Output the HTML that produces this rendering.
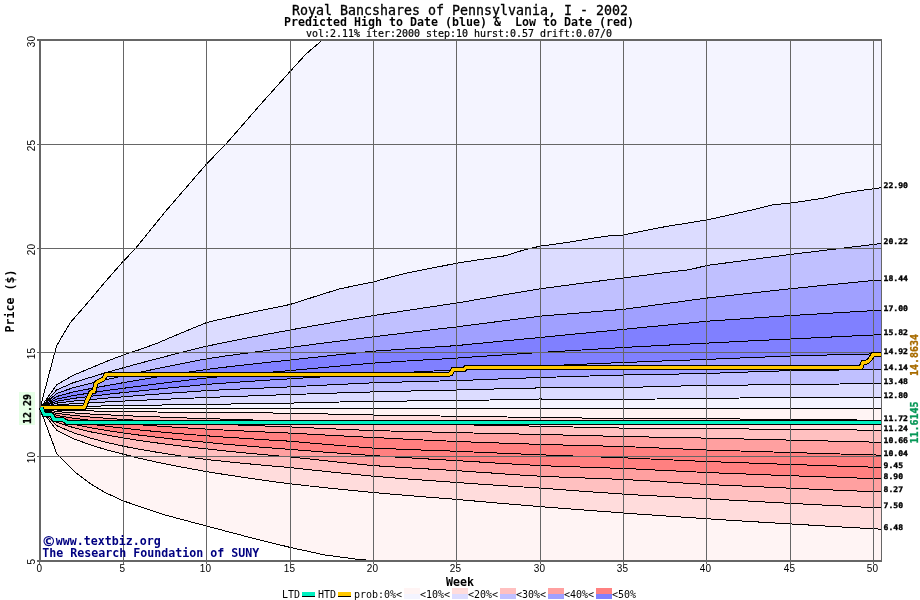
<!DOCTYPE html>
<html><head><meta charset="utf-8"><title>Royal Bancshares of Pennsylvania, I - 2002</title>
<style>
html,body{margin:0;padding:0;background:#fff;}
svg{display:block;will-change:transform;}
text{font-family:"DejaVu Sans Mono","Liberation Mono",monospace;fill:#000;}
.t1{font-size:13.29px;stroke:#000;stroke-width:0.3px;}
.t2{font-size:11.63px;font-weight:bold;}
.t3{font-size:9.97px;stroke:#000;stroke-width:0.2px;}
.tick{font-family:"Liberation Sans",sans-serif;font-size:10px;}
.tiny{font-size:7.7px;font-weight:bold;stroke:#000;stroke-width:0.35px;}
.cp{font-size:11.63px;font-weight:bold;fill:#000080;}
.leg{font-size:9.97px;}
</style></head><body>
<svg width="920" height="600" viewBox="0 0 920 600">
<rect width="920" height="600" fill="#fff"/>
<g shape-rendering="crispEdges">
<polygon points="40.0,408.4 56.5,346.0 70.0,323.0 90.0,300.0 105.0,282.0 123.5,261.0 135.5,248.5 165.0,212.0 206.5,164.0 226.0,144.0 260.0,105.0 290.5,71.0 306.0,54.0 322.5,40.0 881.0,40.0 881.0,408.4 40.0,408.4" fill="#f4f4ff"/>
<polygon points="40.0,408.4 56.7,384.8 73.3,375.3 90.0,368.3 106.7,361.3 123.3,355.0 140.0,349.5 156.7,343.4 173.3,336.3 190.0,329.4 206.7,322.5 223.3,318.6 240.0,314.9 256.7,311.3 273.3,307.9 290.0,304.5 306.7,299.2 323.3,293.9 340.0,288.8 356.7,285.3 373.3,282.0 390.0,277.3 406.7,273.1 423.3,269.8 440.0,266.5 456.7,263.2 473.3,260.6 490.0,258.1 506.7,255.5 523.3,250.1 540.0,246.2 556.7,243.9 573.3,241.5 590.0,238.7 606.7,236.1 623.3,235.0 640.0,231.6 656.7,228.2 673.3,225.3 690.0,222.7 706.7,220.0 723.3,216.3 740.0,212.6 756.7,208.9 773.3,204.7 790.0,203.2 806.7,200.7 823.3,198.2 840.0,193.9 856.7,191.0 873.3,188.8 881.7,187.7 881.0,408.4 40.0,408.4" fill="#dcdcff"/>
<polygon points="40.0,408.4 56.7,389.9 73.3,382.7 90.0,377.5 106.7,372.4 123.3,367.8 140.0,363.2 156.7,358.8 173.3,354.5 190.0,350.3 206.7,346.2 223.3,342.8 240.0,339.4 256.7,336.2 273.3,333.1 290.0,330.0 306.7,327.0 323.3,324.1 340.0,321.2 356.7,318.4 373.3,315.6 390.0,313.0 406.7,310.5 423.3,308.0 440.0,305.5 456.7,303.1 473.3,300.2 490.0,297.3 506.7,294.4 523.3,291.6 540.0,288.8 556.7,286.6 573.3,284.4 590.0,282.2 606.7,280.1 623.3,278.0 640.0,275.9 656.7,273.7 673.3,271.6 690.0,269.6 706.7,265.5 723.3,263.3 740.0,261.1 756.7,258.9 773.3,256.7 790.0,254.5 806.7,252.5 823.3,250.5 840.0,248.5 856.7,246.5 873.3,244.5 881.7,243.4 881.0,408.4 40.0,408.4" fill="#c0c0ff"/>
<polygon points="40.0,408.4 56.7,393.4 73.3,387.7 90.0,383.6 106.7,379.5 123.3,375.9 140.0,372.2 156.7,368.7 173.3,365.3 190.0,362.0 206.7,358.8 223.3,356.3 240.0,354.0 256.7,351.8 273.3,349.6 290.0,347.5 306.7,345.3 323.3,343.1 340.0,341.0 356.7,338.9 373.3,336.9 390.0,334.8 406.7,332.8 423.3,330.8 440.0,328.8 456.7,326.9 473.3,324.7 490.0,322.6 506.7,320.4 523.3,318.3 540.0,316.2 556.7,314.8 573.3,313.5 590.0,312.1 606.7,310.7 623.3,309.4 640.0,307.1 656.7,304.8 673.3,302.6 690.0,300.3 706.7,298.1 723.3,296.2 740.0,294.3 756.7,292.5 773.3,290.6 790.0,288.8 806.7,287.1 823.3,285.4 840.0,283.8 856.7,282.1 873.3,280.5 881.7,280.4 881.0,408.4 40.0,408.4" fill="#a0a0ff"/>
<polygon points="40.0,408.4 56.7,396.5 73.3,392.0 90.0,388.7 106.7,385.6 123.3,382.7 140.0,379.8 156.7,377.1 173.3,374.5 190.0,371.9 206.7,369.4 223.3,367.4 240.0,365.4 256.7,363.6 273.3,361.8 290.0,360.0 306.7,358.2 323.3,356.4 340.0,354.6 356.7,352.9 373.3,351.2 390.0,350.1 406.7,348.9 423.3,347.8 440.0,346.7 456.7,345.6 473.3,343.9 490.0,342.3 506.7,340.7 523.3,339.1 540.0,337.5 556.7,335.8 573.3,334.2 590.0,332.6 606.7,331.0 623.3,329.4 640.0,327.7 656.7,326.1 673.3,324.5 690.0,322.9 706.7,321.2 723.3,320.1 740.0,319.0 756.7,317.8 773.3,316.7 790.0,315.6 806.7,314.6 823.3,313.6 840.0,312.6 856.7,311.6 873.3,310.6 881.7,310.4 881.0,408.4 40.0,408.4" fill="#8080ff"/>
<polygon points="40.0,408.4 56.7,399.1 73.3,395.6 90.0,393.0 106.7,390.5 123.3,388.3 140.0,386.1 156.7,383.9 173.3,381.9 190.0,379.9 206.7,377.9 223.3,376.4 240.0,374.8 256.7,373.4 273.3,372.0 290.0,370.6 306.7,369.0 323.3,367.5 340.0,366.0 356.7,364.5 373.3,363.1 390.0,362.1 406.7,361.0 423.3,360.0 440.0,359.1 456.7,358.1 473.3,356.9 490.0,355.8 506.7,354.7 523.3,353.6 540.0,352.5 556.7,351.5 573.3,350.5 590.0,349.5 606.7,348.5 623.3,347.5 640.0,346.6 656.7,345.7 673.3,344.8 690.0,344.0 706.7,343.1 723.3,342.3 740.0,341.4 756.7,340.6 773.3,339.8 790.0,339.0 806.7,338.2 823.3,337.4 840.0,336.6 856.7,335.8 873.3,335.0 881.7,334.9 881.0,408.4 40.0,408.4" fill="#8080ff"/>
<polygon points="40.0,408.4 56.7,401.2 73.3,398.4 90.0,396.4 106.7,394.4 123.3,392.6 140.0,390.9 156.7,389.2 173.3,387.5 190.0,386.0 206.7,384.4 223.3,383.2 240.0,382.0 256.7,380.9 273.3,379.8 290.0,378.8 306.7,377.8 323.3,376.8 340.0,375.9 356.7,375.0 373.3,374.1 390.0,373.2 406.7,372.4 423.3,371.5 440.0,370.7 456.7,369.9 473.3,369.1 490.0,368.3 506.7,367.6 523.3,366.8 540.0,366.1 556.7,365.3 573.3,364.6 590.0,363.9 606.7,363.2 623.3,362.5 640.0,361.9 656.7,361.2 673.3,360.6 690.0,360.0 706.7,359.4 723.3,358.7 740.0,358.0 756.7,357.3 773.3,356.7 790.0,356.0 806.7,355.6 823.3,355.1 840.0,354.7 856.7,354.3 873.3,353.9 881.7,353.7 881.0,408.4 40.0,408.4" fill="#a0a0ff"/>
<polygon points="40.0,408.4 56.7,403.1 73.3,401.1 90.0,399.6 106.7,398.1 123.3,396.8 140.0,395.4 156.7,394.2 173.3,392.9 190.0,391.8 206.7,390.6 223.3,389.8 240.0,389.0 256.7,388.3 273.3,387.6 290.0,386.9 306.7,386.0 323.3,385.2 340.0,384.4 356.7,383.6 373.3,382.8 390.0,382.3 406.7,381.9 423.3,381.4 440.0,381.0 456.7,380.6 473.3,380.0 490.0,379.3 506.7,378.7 523.3,378.1 540.0,377.5 556.7,377.0 573.3,376.5 590.0,376.0 606.7,375.5 623.3,375.0 640.0,374.7 656.7,374.4 673.3,374.1 690.0,373.8 706.7,373.5 723.3,372.9 740.0,372.3 756.7,371.7 773.3,371.2 790.0,370.6 806.7,370.4 823.3,370.2 840.0,370.0 856.7,369.8 873.3,369.6 881.7,369.9 881.0,408.4 40.0,408.4" fill="#c0c0ff"/>
<polygon points="40.0,408.4 56.7,405.0 73.3,403.7 90.0,402.8 106.7,401.9 123.3,401.1 140.0,400.3 156.7,399.6 173.3,398.9 190.0,398.2 206.7,397.5 223.3,396.9 240.0,396.3 256.7,395.7 273.3,395.1 290.0,394.6 306.7,394.0 323.3,393.5 340.0,392.9 356.7,392.4 373.3,391.9 390.0,391.5 406.7,391.1 423.3,390.7 440.0,390.4 456.7,390.0 473.3,389.6 490.0,389.1 506.7,388.7 523.3,388.3 540.0,387.9 556.7,387.8 573.3,387.7 590.0,387.6 606.7,387.6 623.3,387.5 640.0,387.1 656.7,386.6 673.3,386.2 690.0,385.8 706.7,385.4 723.3,385.2 740.0,385.1 756.7,384.9 773.3,384.8 790.0,384.6 806.7,384.4 823.3,384.2 840.0,384.0 856.7,383.8 873.3,383.6 881.7,383.6 881.0,408.4 40.0,408.4" fill="#dcdcff"/>
<polygon points="40.0,408.4 56.7,407.0 73.3,406.5 90.0,406.2 106.7,405.9 123.3,405.6 140.0,405.3 156.7,405.1 173.3,404.8 190.0,404.6 206.7,404.4 223.3,404.1 240.0,403.9 256.7,403.6 273.3,403.3 290.0,403.1 306.7,402.7 323.3,402.3 340.0,402.0 356.7,401.6 373.3,401.2 390.0,401.1 406.7,401.0 423.3,400.8 440.0,400.7 456.7,400.6 473.3,400.3 490.0,400.0 506.7,399.6 523.3,399.3 540.0,399.0 556.7,399.1 573.3,399.2 590.0,399.2 606.7,399.3 623.3,399.4 640.0,399.2 656.7,399.0 673.3,398.8 690.0,398.6 706.7,398.4 723.3,398.2 740.0,398.0 756.7,397.9 773.3,397.7 790.0,397.5 806.7,397.5 823.3,397.5 840.0,397.5 856.7,397.5 873.3,397.5 881.7,397.8 881.0,408.4 40.0,408.4" fill="#f4f4ff"/>
<polygon points="40.0,408.4 56.7,453.5 75.0,472.0 90.0,483.5 105.0,492.5 123.5,501.0 165.0,515.0 206.5,526.0 250.0,537.5 290.5,547.5 325.0,555.0 355.0,559.0 366.0,560.0 881.0,560.0 881.0,408.4 40.0,408.4" fill="#fff4f4"/>
<polygon points="40.0,408.4 56.7,430.2 73.3,438.6 90.0,444.8 106.7,449.9 123.3,454.2 140.0,458.4 156.7,462.1 173.3,465.5 190.0,468.6 206.7,471.6 223.3,474.3 240.0,476.8 256.7,479.3 273.3,481.6 290.0,483.8 306.7,485.7 323.3,487.5 340.0,489.2 356.7,490.9 373.3,492.5 390.0,494.0 406.7,495.4 423.3,496.8 440.0,498.1 456.7,499.4 473.3,500.9 490.0,502.4 506.7,503.8 523.3,505.2 540.0,506.6 556.7,507.9 573.3,509.2 590.0,510.5 606.7,511.7 623.3,513.0 640.0,514.2 656.7,515.3 673.3,516.5 690.0,517.6 706.7,518.7 723.3,519.8 740.0,520.9 756.7,521.9 773.3,522.9 790.0,523.9 806.7,524.9 823.3,525.9 840.0,526.9 856.7,527.8 873.3,528.8 881.7,529.2 881.0,408.4 40.0,408.4" fill="#ffdcdc"/>
<polygon points="40.0,408.4 56.7,425.7 73.3,432.7 90.0,438.0 106.7,442.4 123.3,446.2 140.0,449.4 156.7,452.2 173.3,454.8 190.0,457.3 206.7,459.5 223.3,461.3 240.0,463.0 256.7,464.6 273.3,466.1 290.0,467.5 306.7,469.4 323.3,471.2 340.0,472.9 356.7,474.6 373.3,476.2 390.0,477.6 406.7,478.9 423.3,480.1 440.0,481.3 456.7,482.5 473.3,483.7 490.0,484.8 506.7,485.9 523.3,487.0 540.0,488.1 556.7,489.3 573.3,490.6 590.0,491.8 606.7,492.9 623.3,494.1 640.0,495.1 656.7,496.0 673.3,496.9 690.0,497.9 706.7,498.8 723.3,499.7 740.0,500.6 756.7,501.5 773.3,502.5 790.0,503.3 806.7,504.2 823.3,505.1 840.0,505.9 856.7,506.8 873.3,507.6 881.7,508.0 881.0,408.4 40.0,408.4" fill="#ffc0c0"/>
<polygon points="40.0,408.4 56.7,422.2 73.3,427.6 90.0,431.7 106.7,435.0 123.3,438.0 140.0,440.6 156.7,442.9 173.3,445.1 190.0,447.1 206.7,448.9 223.3,450.7 240.0,452.4 256.7,454.0 273.3,455.5 290.0,456.9 306.7,458.7 323.3,460.5 340.0,462.3 356.7,464.0 373.3,465.6 390.0,466.7 406.7,467.7 423.3,468.7 440.0,469.7 456.7,470.6 473.3,471.8 490.0,472.9 506.7,474.1 523.3,475.2 540.0,476.2 556.7,476.9 573.3,477.6 590.0,478.2 606.7,478.8 623.3,479.4 640.0,480.4 656.7,481.4 673.3,482.4 690.0,483.4 706.7,484.4 723.3,485.2 740.0,485.9 756.7,486.7 773.3,487.4 790.0,488.2 806.7,488.9 823.3,489.6 840.0,490.3 856.7,491.0 873.3,491.6 881.7,492.0 881.0,408.4 40.0,408.4" fill="#ffa0a0"/>
<polygon points="40.0,408.4 56.7,419.7 73.3,424.2 90.0,427.7 106.7,430.5 123.3,433.0 140.0,435.2 156.7,437.2 173.3,439.1 190.0,440.8 206.7,442.4 223.3,444.0 240.0,445.4 256.7,446.8 273.3,448.1 290.0,449.4 306.7,450.7 323.3,452.0 340.0,453.2 356.7,454.4 373.3,455.6 390.0,456.7 406.7,457.7 423.3,458.7 440.0,459.7 456.7,460.6 473.3,461.6 490.0,462.7 506.7,463.7 523.3,464.6 540.0,465.6 556.7,466.2 573.3,466.8 590.0,467.3 606.7,467.9 623.3,468.4 640.0,469.2 656.7,470.1 673.3,470.9 690.0,471.7 706.7,472.5 723.3,473.2 740.0,473.8 756.7,474.4 773.3,475.1 790.0,475.7 806.7,476.3 823.3,476.9 840.0,477.5 856.7,478.0 873.3,478.6 881.7,478.9 881.0,408.4 40.0,408.4" fill="#ff8080"/>
<polygon points="40.0,408.4 56.7,417.6 73.3,421.2 90.0,424.0 106.7,426.3 123.3,428.2 140.0,430.0 156.7,431.6 173.3,433.1 190.0,434.5 206.7,435.8 223.3,437.0 240.0,438.1 256.7,439.2 273.3,440.3 290.0,441.2 306.7,442.7 323.3,444.1 340.0,445.5 356.7,446.8 373.3,448.1 390.0,448.8 406.7,449.4 423.3,450.1 440.0,450.7 456.7,451.2 473.3,452.0 490.0,452.7 506.7,453.4 523.3,454.1 540.0,454.8 556.7,455.4 573.3,456.0 590.0,456.6 606.7,457.2 623.3,457.8 640.0,458.5 656.7,459.3 673.3,460.0 690.0,460.8 706.7,461.5 723.3,462.1 740.0,462.7 756.7,463.3 773.3,463.9 790.0,464.4 806.7,465.0 823.3,465.6 840.0,466.1 856.7,466.6 873.3,467.2 881.7,467.4 881.0,408.4 40.0,408.4" fill="#ff8080"/>
<polygon points="40.0,408.4 56.7,415.4 73.3,418.2 90.0,420.3 106.7,422.0 123.3,423.5 140.0,424.8 156.7,426.0 173.3,427.1 190.0,428.1 206.7,429.1 223.3,430.0 240.0,430.8 256.7,431.6 273.3,432.4 290.0,433.1 306.7,434.0 323.3,434.9 340.0,435.8 356.7,436.7 373.3,437.5 390.0,438.3 406.7,439.2 423.3,440.0 440.0,440.7 456.7,441.5 473.3,442.1 490.0,442.7 506.7,443.3 523.3,443.8 540.0,444.4 556.7,444.8 573.3,445.3 590.0,445.7 606.7,446.1 623.3,446.5 640.0,447.2 656.7,447.9 673.3,448.6 690.0,449.3 706.7,450.0 723.3,450.5 740.0,451.0 756.7,451.5 773.3,452.0 790.0,452.5 806.7,453.0 823.3,453.5 840.0,454.0 856.7,454.5 873.3,454.9 881.7,455.2 881.0,408.4 40.0,408.4" fill="#ffa0a0"/>
<polygon points="40.0,408.4 56.7,413.4 73.3,415.4 90.0,417.0 106.7,418.3 123.3,419.4 140.0,420.4 156.7,421.3 173.3,422.2 190.0,422.9 206.7,423.7 223.3,424.4 240.0,425.1 256.7,425.7 273.3,426.3 290.0,426.9 306.7,427.7 323.3,428.4 340.0,429.2 356.7,429.9 373.3,430.6 390.0,431.0 406.7,431.4 423.3,431.8 440.0,432.2 456.7,432.6 473.3,433.0 490.0,433.3 506.7,433.7 523.3,434.1 540.0,434.4 556.7,434.8 573.3,435.3 590.0,435.7 606.7,436.1 623.3,436.5 640.0,436.8 656.7,437.2 673.3,437.5 690.0,437.8 706.7,438.1 723.3,438.5 740.0,438.9 756.7,439.3 773.3,439.7 790.0,440.1 806.7,440.5 823.3,440.9 840.0,441.3 856.7,441.7 873.3,442.1 881.7,442.3 881.0,408.4 40.0,408.4" fill="#ffc0c0"/>
<polygon points="40.0,408.4 56.7,411.6 73.3,412.9 90.0,414.0 106.7,414.8 123.3,415.6 140.0,416.3 156.7,416.9 173.3,417.5 190.0,418.1 206.7,418.6 223.3,419.1 240.0,419.6 256.7,420.1 273.3,420.5 290.0,421.0 306.7,421.4 323.3,421.8 340.0,422.2 356.7,422.6 373.3,422.9 390.0,423.3 406.7,423.6 423.3,424.0 440.0,424.3 456.7,424.7 473.3,425.0 490.0,425.3 506.7,425.6 523.3,425.9 540.0,426.2 556.7,426.6 573.3,427.0 590.0,427.4 606.7,427.7 623.3,428.1 640.0,428.2 656.7,428.3 673.3,428.4 690.0,428.5 706.7,428.6 723.3,428.8 740.0,428.9 756.7,429.1 773.3,429.2 790.0,429.4 806.7,429.6 823.3,429.7 840.0,429.9 856.7,430.0 873.3,430.1 881.7,430.2 881.0,408.4 40.0,408.4" fill="#ffdcdc"/>
<polygon points="40.0,408.4 56.7,410.0 73.3,410.5 90.0,410.9 106.7,411.3 123.3,411.6 140.0,411.8 156.7,412.0 173.3,412.2 190.0,412.4 206.7,412.5 223.3,412.7 240.0,412.8 256.7,412.9 273.3,413.0 290.0,413.1 306.7,413.5 323.3,413.9 340.0,414.3 356.7,414.6 373.3,415.0 390.0,415.3 406.7,415.5 423.3,415.8 440.0,416.0 456.7,416.2 473.3,416.5 490.0,416.8 506.7,417.0 523.3,417.3 540.0,417.5 556.7,417.7 573.3,417.9 590.0,418.1 606.7,418.3 623.3,418.5 640.0,418.6 656.7,418.6 673.3,418.7 690.0,418.7 706.7,418.8 723.3,418.9 740.0,419.0 756.7,419.2 773.3,419.3 790.0,419.5 806.7,419.6 823.3,419.7 840.0,419.9 856.7,420.0 873.3,420.2 881.7,420.2 881.0,408.4 40.0,408.4" fill="#fff4f4"/>
<polyline points="40.0,408.4 56.5,346.0 70.0,323.0 90.0,300.0 105.0,282.0 123.5,261.0 135.5,248.5 165.0,212.0 206.5,164.0 226.0,144.0 260.0,105.0 290.5,71.0 306.0,54.0 322.5,40.0" fill="none" stroke="#000" stroke-width="1"/>
<polyline points="40.0,408.4 56.7,453.5 75.0,472.0 90.0,483.5 105.0,492.5 123.5,501.0 165.0,515.0 206.5,526.0 250.0,537.5 290.5,547.5 325.0,555.0 355.0,559.0 366.0,560.0" fill="none" stroke="#000" stroke-width="1"/>
<polyline points="40.0,408.4 56.7,407.0 73.3,406.5 90.0,406.2 106.7,405.9 123.3,405.6 140.0,405.3 156.7,405.1 173.3,404.8 190.0,404.6 206.7,404.4 223.3,404.1 240.0,403.9 256.7,403.6 273.3,403.3 290.0,403.1 306.7,402.7 323.3,402.3 340.0,402.0 356.7,401.6 373.3,401.2 390.0,401.1 406.7,401.0 423.3,400.8 440.0,400.7 456.7,400.6 473.3,400.3 490.0,400.0 506.7,399.6 523.3,399.3 540.0,399.0 556.7,399.1 573.3,399.2 590.0,399.2 606.7,399.3 623.3,399.4 640.0,399.2 656.7,399.0 673.3,398.8 690.0,398.6 706.7,398.4 723.3,398.2 740.0,398.0 756.7,397.9 773.3,397.7 790.0,397.5 806.7,397.5 823.3,397.5 840.0,397.5 856.7,397.5 873.3,397.5 881.7,397.8" fill="none" stroke="#000" stroke-width="1"/>
<polyline points="40.0,408.4 56.7,405.0 73.3,403.7 90.0,402.8 106.7,401.9 123.3,401.1 140.0,400.3 156.7,399.6 173.3,398.9 190.0,398.2 206.7,397.5 223.3,396.9 240.0,396.3 256.7,395.7 273.3,395.1 290.0,394.6 306.7,394.0 323.3,393.5 340.0,392.9 356.7,392.4 373.3,391.9 390.0,391.5 406.7,391.1 423.3,390.7 440.0,390.4 456.7,390.0 473.3,389.6 490.0,389.1 506.7,388.7 523.3,388.3 540.0,387.9 556.7,387.8 573.3,387.7 590.0,387.6 606.7,387.6 623.3,387.5 640.0,387.1 656.7,386.6 673.3,386.2 690.0,385.8 706.7,385.4 723.3,385.2 740.0,385.1 756.7,384.9 773.3,384.8 790.0,384.6 806.7,384.4 823.3,384.2 840.0,384.0 856.7,383.8 873.3,383.6 881.7,383.6" fill="none" stroke="#000" stroke-width="1"/>
<polyline points="40.0,408.4 56.7,403.1 73.3,401.1 90.0,399.6 106.7,398.1 123.3,396.8 140.0,395.4 156.7,394.2 173.3,392.9 190.0,391.8 206.7,390.6 223.3,389.8 240.0,389.0 256.7,388.3 273.3,387.6 290.0,386.9 306.7,386.0 323.3,385.2 340.0,384.4 356.7,383.6 373.3,382.8 390.0,382.3 406.7,381.9 423.3,381.4 440.0,381.0 456.7,380.6 473.3,380.0 490.0,379.3 506.7,378.7 523.3,378.1 540.0,377.5 556.7,377.0 573.3,376.5 590.0,376.0 606.7,375.5 623.3,375.0 640.0,374.7 656.7,374.4 673.3,374.1 690.0,373.8 706.7,373.5 723.3,372.9 740.0,372.3 756.7,371.7 773.3,371.2 790.0,370.6 806.7,370.4 823.3,370.2 840.0,370.0 856.7,369.8 873.3,369.6 881.7,369.9" fill="none" stroke="#000" stroke-width="1"/>
<polyline points="40.0,408.4 56.7,401.2 73.3,398.4 90.0,396.4 106.7,394.4 123.3,392.6 140.0,390.9 156.7,389.2 173.3,387.5 190.0,386.0 206.7,384.4 223.3,383.2 240.0,382.0 256.7,380.9 273.3,379.8 290.0,378.8 306.7,377.8 323.3,376.8 340.0,375.9 356.7,375.0 373.3,374.1 390.0,373.2 406.7,372.4 423.3,371.5 440.0,370.7 456.7,369.9 473.3,369.1 490.0,368.3 506.7,367.6 523.3,366.8 540.0,366.1 556.7,365.3 573.3,364.6 590.0,363.9 606.7,363.2 623.3,362.5 640.0,361.9 656.7,361.2 673.3,360.6 690.0,360.0 706.7,359.4 723.3,358.7 740.0,358.0 756.7,357.3 773.3,356.7 790.0,356.0 806.7,355.6 823.3,355.1 840.0,354.7 856.7,354.3 873.3,353.9 881.7,353.7" fill="none" stroke="#000" stroke-width="1"/>
<polyline points="40.0,408.4 56.7,399.1 73.3,395.6 90.0,393.0 106.7,390.5 123.3,388.3 140.0,386.1 156.7,383.9 173.3,381.9 190.0,379.9 206.7,377.9 223.3,376.4 240.0,374.8 256.7,373.4 273.3,372.0 290.0,370.6 306.7,369.0 323.3,367.5 340.0,366.0 356.7,364.5 373.3,363.1 390.0,362.1 406.7,361.0 423.3,360.0 440.0,359.1 456.7,358.1 473.3,356.9 490.0,355.8 506.7,354.7 523.3,353.6 540.0,352.5 556.7,351.5 573.3,350.5 590.0,349.5 606.7,348.5 623.3,347.5 640.0,346.6 656.7,345.7 673.3,344.8 690.0,344.0 706.7,343.1 723.3,342.3 740.0,341.4 756.7,340.6 773.3,339.8 790.0,339.0 806.7,338.2 823.3,337.4 840.0,336.6 856.7,335.8 873.3,335.0 881.7,334.9" fill="none" stroke="#000" stroke-width="1"/>
<polyline points="40.0,408.4 56.7,396.5 73.3,392.0 90.0,388.7 106.7,385.6 123.3,382.7 140.0,379.8 156.7,377.1 173.3,374.5 190.0,371.9 206.7,369.4 223.3,367.4 240.0,365.4 256.7,363.6 273.3,361.8 290.0,360.0 306.7,358.2 323.3,356.4 340.0,354.6 356.7,352.9 373.3,351.2 390.0,350.1 406.7,348.9 423.3,347.8 440.0,346.7 456.7,345.6 473.3,343.9 490.0,342.3 506.7,340.7 523.3,339.1 540.0,337.5 556.7,335.8 573.3,334.2 590.0,332.6 606.7,331.0 623.3,329.4 640.0,327.7 656.7,326.1 673.3,324.5 690.0,322.9 706.7,321.2 723.3,320.1 740.0,319.0 756.7,317.8 773.3,316.7 790.0,315.6 806.7,314.6 823.3,313.6 840.0,312.6 856.7,311.6 873.3,310.6 881.7,310.4" fill="none" stroke="#000" stroke-width="1"/>
<polyline points="40.0,408.4 56.7,393.4 73.3,387.7 90.0,383.6 106.7,379.5 123.3,375.9 140.0,372.2 156.7,368.7 173.3,365.3 190.0,362.0 206.7,358.8 223.3,356.3 240.0,354.0 256.7,351.8 273.3,349.6 290.0,347.5 306.7,345.3 323.3,343.1 340.0,341.0 356.7,338.9 373.3,336.9 390.0,334.8 406.7,332.8 423.3,330.8 440.0,328.8 456.7,326.9 473.3,324.7 490.0,322.6 506.7,320.4 523.3,318.3 540.0,316.2 556.7,314.8 573.3,313.5 590.0,312.1 606.7,310.7 623.3,309.4 640.0,307.1 656.7,304.8 673.3,302.6 690.0,300.3 706.7,298.1 723.3,296.2 740.0,294.3 756.7,292.5 773.3,290.6 790.0,288.8 806.7,287.1 823.3,285.4 840.0,283.8 856.7,282.1 873.3,280.5 881.7,280.4" fill="none" stroke="#000" stroke-width="1"/>
<polyline points="40.0,408.4 56.7,389.9 73.3,382.7 90.0,377.5 106.7,372.4 123.3,367.8 140.0,363.2 156.7,358.8 173.3,354.5 190.0,350.3 206.7,346.2 223.3,342.8 240.0,339.4 256.7,336.2 273.3,333.1 290.0,330.0 306.7,327.0 323.3,324.1 340.0,321.2 356.7,318.4 373.3,315.6 390.0,313.0 406.7,310.5 423.3,308.0 440.0,305.5 456.7,303.1 473.3,300.2 490.0,297.3 506.7,294.4 523.3,291.6 540.0,288.8 556.7,286.6 573.3,284.4 590.0,282.2 606.7,280.1 623.3,278.0 640.0,275.9 656.7,273.7 673.3,271.6 690.0,269.6 706.7,265.5 723.3,263.3 740.0,261.1 756.7,258.9 773.3,256.7 790.0,254.5 806.7,252.5 823.3,250.5 840.0,248.5 856.7,246.5 873.3,244.5 881.7,243.4" fill="none" stroke="#000" stroke-width="1"/>
<polyline points="40.0,408.4 56.7,384.8 73.3,375.3 90.0,368.3 106.7,361.3 123.3,355.0 140.0,349.5 156.7,343.4 173.3,336.3 190.0,329.4 206.7,322.5 223.3,318.6 240.0,314.9 256.7,311.3 273.3,307.9 290.0,304.5 306.7,299.2 323.3,293.9 340.0,288.8 356.7,285.3 373.3,282.0 390.0,277.3 406.7,273.1 423.3,269.8 440.0,266.5 456.7,263.2 473.3,260.6 490.0,258.1 506.7,255.5 523.3,250.1 540.0,246.2 556.7,243.9 573.3,241.5 590.0,238.7 606.7,236.1 623.3,235.0 640.0,231.6 656.7,228.2 673.3,225.3 690.0,222.7 706.7,220.0 723.3,216.3 740.0,212.6 756.7,208.9 773.3,204.7 790.0,203.2 806.7,200.7 823.3,198.2 840.0,193.9 856.7,191.0 873.3,188.8 881.7,187.7" fill="none" stroke="#000" stroke-width="1"/>
<polyline points="40.0,408.4 56.7,410.0 73.3,410.5 90.0,410.9 106.7,411.3 123.3,411.6 140.0,411.8 156.7,412.0 173.3,412.2 190.0,412.4 206.7,412.5 223.3,412.7 240.0,412.8 256.7,412.9 273.3,413.0 290.0,413.1 306.7,413.5 323.3,413.9 340.0,414.3 356.7,414.6 373.3,415.0 390.0,415.3 406.7,415.5 423.3,415.8 440.0,416.0 456.7,416.2 473.3,416.5 490.0,416.8 506.7,417.0 523.3,417.3 540.0,417.5 556.7,417.7 573.3,417.9 590.0,418.1 606.7,418.3 623.3,418.5 640.0,418.6 656.7,418.6 673.3,418.7 690.0,418.7 706.7,418.8 723.3,418.9 740.0,419.0 756.7,419.2 773.3,419.3 790.0,419.5 806.7,419.6 823.3,419.7 840.0,419.9 856.7,420.0 873.3,420.2 881.7,420.2" fill="none" stroke="#000" stroke-width="1"/>
<polyline points="40.0,408.4 56.7,411.6 73.3,412.9 90.0,414.0 106.7,414.8 123.3,415.6 140.0,416.3 156.7,416.9 173.3,417.5 190.0,418.1 206.7,418.6 223.3,419.1 240.0,419.6 256.7,420.1 273.3,420.5 290.0,421.0 306.7,421.4 323.3,421.8 340.0,422.2 356.7,422.6 373.3,422.9 390.0,423.3 406.7,423.6 423.3,424.0 440.0,424.3 456.7,424.7 473.3,425.0 490.0,425.3 506.7,425.6 523.3,425.9 540.0,426.2 556.7,426.6 573.3,427.0 590.0,427.4 606.7,427.7 623.3,428.1 640.0,428.2 656.7,428.3 673.3,428.4 690.0,428.5 706.7,428.6 723.3,428.8 740.0,428.9 756.7,429.1 773.3,429.2 790.0,429.4 806.7,429.6 823.3,429.7 840.0,429.9 856.7,430.0 873.3,430.1 881.7,430.2" fill="none" stroke="#000" stroke-width="1"/>
<polyline points="40.0,408.4 56.7,413.4 73.3,415.4 90.0,417.0 106.7,418.3 123.3,419.4 140.0,420.4 156.7,421.3 173.3,422.2 190.0,422.9 206.7,423.7 223.3,424.4 240.0,425.1 256.7,425.7 273.3,426.3 290.0,426.9 306.7,427.7 323.3,428.4 340.0,429.2 356.7,429.9 373.3,430.6 390.0,431.0 406.7,431.4 423.3,431.8 440.0,432.2 456.7,432.6 473.3,433.0 490.0,433.3 506.7,433.7 523.3,434.1 540.0,434.4 556.7,434.8 573.3,435.3 590.0,435.7 606.7,436.1 623.3,436.5 640.0,436.8 656.7,437.2 673.3,437.5 690.0,437.8 706.7,438.1 723.3,438.5 740.0,438.9 756.7,439.3 773.3,439.7 790.0,440.1 806.7,440.5 823.3,440.9 840.0,441.3 856.7,441.7 873.3,442.1 881.7,442.3" fill="none" stroke="#000" stroke-width="1"/>
<polyline points="40.0,408.4 56.7,415.4 73.3,418.2 90.0,420.3 106.7,422.0 123.3,423.5 140.0,424.8 156.7,426.0 173.3,427.1 190.0,428.1 206.7,429.1 223.3,430.0 240.0,430.8 256.7,431.6 273.3,432.4 290.0,433.1 306.7,434.0 323.3,434.9 340.0,435.8 356.7,436.7 373.3,437.5 390.0,438.3 406.7,439.2 423.3,440.0 440.0,440.7 456.7,441.5 473.3,442.1 490.0,442.7 506.7,443.3 523.3,443.8 540.0,444.4 556.7,444.8 573.3,445.3 590.0,445.7 606.7,446.1 623.3,446.5 640.0,447.2 656.7,447.9 673.3,448.6 690.0,449.3 706.7,450.0 723.3,450.5 740.0,451.0 756.7,451.5 773.3,452.0 790.0,452.5 806.7,453.0 823.3,453.5 840.0,454.0 856.7,454.5 873.3,454.9 881.7,455.2" fill="none" stroke="#000" stroke-width="1"/>
<polyline points="40.0,408.4 56.7,417.6 73.3,421.2 90.0,424.0 106.7,426.3 123.3,428.2 140.0,430.0 156.7,431.6 173.3,433.1 190.0,434.5 206.7,435.8 223.3,437.0 240.0,438.1 256.7,439.2 273.3,440.3 290.0,441.2 306.7,442.7 323.3,444.1 340.0,445.5 356.7,446.8 373.3,448.1 390.0,448.8 406.7,449.4 423.3,450.1 440.0,450.7 456.7,451.2 473.3,452.0 490.0,452.7 506.7,453.4 523.3,454.1 540.0,454.8 556.7,455.4 573.3,456.0 590.0,456.6 606.7,457.2 623.3,457.8 640.0,458.5 656.7,459.3 673.3,460.0 690.0,460.8 706.7,461.5 723.3,462.1 740.0,462.7 756.7,463.3 773.3,463.9 790.0,464.4 806.7,465.0 823.3,465.6 840.0,466.1 856.7,466.6 873.3,467.2 881.7,467.4" fill="none" stroke="#000" stroke-width="1"/>
<polyline points="40.0,408.4 56.7,419.7 73.3,424.2 90.0,427.7 106.7,430.5 123.3,433.0 140.0,435.2 156.7,437.2 173.3,439.1 190.0,440.8 206.7,442.4 223.3,444.0 240.0,445.4 256.7,446.8 273.3,448.1 290.0,449.4 306.7,450.7 323.3,452.0 340.0,453.2 356.7,454.4 373.3,455.6 390.0,456.7 406.7,457.7 423.3,458.7 440.0,459.7 456.7,460.6 473.3,461.6 490.0,462.7 506.7,463.7 523.3,464.6 540.0,465.6 556.7,466.2 573.3,466.8 590.0,467.3 606.7,467.9 623.3,468.4 640.0,469.2 656.7,470.1 673.3,470.9 690.0,471.7 706.7,472.5 723.3,473.2 740.0,473.8 756.7,474.4 773.3,475.1 790.0,475.7 806.7,476.3 823.3,476.9 840.0,477.5 856.7,478.0 873.3,478.6 881.7,478.9" fill="none" stroke="#000" stroke-width="1"/>
<polyline points="40.0,408.4 56.7,422.2 73.3,427.6 90.0,431.7 106.7,435.0 123.3,438.0 140.0,440.6 156.7,442.9 173.3,445.1 190.0,447.1 206.7,448.9 223.3,450.7 240.0,452.4 256.7,454.0 273.3,455.5 290.0,456.9 306.7,458.7 323.3,460.5 340.0,462.3 356.7,464.0 373.3,465.6 390.0,466.7 406.7,467.7 423.3,468.7 440.0,469.7 456.7,470.6 473.3,471.8 490.0,472.9 506.7,474.1 523.3,475.2 540.0,476.2 556.7,476.9 573.3,477.6 590.0,478.2 606.7,478.8 623.3,479.4 640.0,480.4 656.7,481.4 673.3,482.4 690.0,483.4 706.7,484.4 723.3,485.2 740.0,485.9 756.7,486.7 773.3,487.4 790.0,488.2 806.7,488.9 823.3,489.6 840.0,490.3 856.7,491.0 873.3,491.6 881.7,492.0" fill="none" stroke="#000" stroke-width="1"/>
<polyline points="40.0,408.4 56.7,425.7 73.3,432.7 90.0,438.0 106.7,442.4 123.3,446.2 140.0,449.4 156.7,452.2 173.3,454.8 190.0,457.3 206.7,459.5 223.3,461.3 240.0,463.0 256.7,464.6 273.3,466.1 290.0,467.5 306.7,469.4 323.3,471.2 340.0,472.9 356.7,474.6 373.3,476.2 390.0,477.6 406.7,478.9 423.3,480.1 440.0,481.3 456.7,482.5 473.3,483.7 490.0,484.8 506.7,485.9 523.3,487.0 540.0,488.1 556.7,489.3 573.3,490.6 590.0,491.8 606.7,492.9 623.3,494.1 640.0,495.1 656.7,496.0 673.3,496.9 690.0,497.9 706.7,498.8 723.3,499.7 740.0,500.6 756.7,501.5 773.3,502.5 790.0,503.3 806.7,504.2 823.3,505.1 840.0,505.9 856.7,506.8 873.3,507.6 881.7,508.0" fill="none" stroke="#000" stroke-width="1"/>
<polyline points="40.0,408.4 56.7,430.2 73.3,438.6 90.0,444.8 106.7,449.9 123.3,454.2 140.0,458.4 156.7,462.1 173.3,465.5 190.0,468.6 206.7,471.6 223.3,474.3 240.0,476.8 256.7,479.3 273.3,481.6 290.0,483.8 306.7,485.7 323.3,487.5 340.0,489.2 356.7,490.9 373.3,492.5 390.0,494.0 406.7,495.4 423.3,496.8 440.0,498.1 456.7,499.4 473.3,500.9 490.0,502.4 506.7,503.8 523.3,505.2 540.0,506.6 556.7,507.9 573.3,509.2 590.0,510.5 606.7,511.7 623.3,513.0 640.0,514.2 656.7,515.3 673.3,516.5 690.0,517.6 706.7,518.7 723.3,519.8 740.0,520.9 756.7,521.9 773.3,522.9 790.0,523.9 806.7,524.9 823.3,525.9 840.0,526.9 856.7,527.8 873.3,528.8 881.7,529.2" fill="none" stroke="#000" stroke-width="1"/>
<line x1="40" y1="408.4" x2="881.0" y2="408.4" stroke="#000"/>
<rect x="123" y="40" width="1" height="524" fill="#666"/>
<rect x="206" y="40" width="1" height="524" fill="#666"/>
<rect x="290" y="40" width="1" height="524" fill="#666"/>
<rect x="373" y="40" width="1" height="524" fill="#666"/>
<rect x="456" y="40" width="1" height="524" fill="#666"/>
<rect x="540" y="40" width="1" height="524" fill="#666"/>
<rect x="623" y="40" width="1" height="524" fill="#666"/>
<rect x="706" y="40" width="1" height="524" fill="#666"/>
<rect x="790" y="40" width="1" height="524" fill="#666"/>
<rect x="873" y="40" width="1" height="524" fill="#666"/>
<rect x="37" y="144" width="844" height="1" fill="#666"/>
<rect x="37" y="248" width="844" height="1" fill="#666"/>
<rect x="37" y="352" width="844" height="1" fill="#666"/>
<rect x="37" y="456" width="844" height="1" fill="#666"/>
<rect x="39" y="39" width="2" height="523" fill="#666"/>
<rect x="37" y="39" width="845" height="2" fill="#666"/>
<rect x="37" y="560" width="845" height="2" fill="#666"/>
<rect x="881" y="39" width="1" height="523" fill="#666"/>
<rect x="39" y="562" width="1" height="2" fill="#666"/>
<polyline points="41.0,407.5 84.0,407.5 91.0,392.0 94.0,391.3 96.0,383.0 103.5,378.8 106.0,374.5 448.0,374.5 451.0,373.5 453.0,369.5 464.0,369.5 466.0,367.5 861.0,367.5 863.0,362.5 867.0,362.0 870.0,359.5 873.0,354.5 881.0,354.5" fill="none" stroke="#000" stroke-width="5"/><polyline points="41.0,407.5 84.0,407.5 91.0,392.0 94.0,391.3 96.0,383.0 103.5,378.8 106.0,374.5 448.0,374.5 451.0,373.5 453.0,369.5 464.0,369.5 466.0,367.5 861.0,367.5 863.0,362.5 867.0,362.0 870.0,359.5 873.0,354.5 881.0,354.5" fill="none" stroke="#ffc800" stroke-width="3"/>
<polyline points="41.0,407.5 44.0,414.0 51.0,414.0 54.0,419.5 63.0,419.5 67.0,422.5 881.0,422.5" fill="none" stroke="#000" stroke-width="5"/><polyline points="41.0,407.5 44.0,414.0 51.0,414.0 54.0,419.5 63.0,419.5 67.0,422.5 881.0,422.5" fill="none" stroke="#00f0c0" stroke-width="3"/>
</g>
<text x="460" y="15" class="t1" text-anchor="middle">Royal Bancshares of Pennsylvania, I - 2002</text>
<text x="459" y="26.3" class="t2" text-anchor="middle" xml:space="preserve" style="white-space:pre">Predicted High to Date (blue) &amp;  Low to Date (red)</text>
<text x="459" y="37" class="t3" text-anchor="middle">vol:2.11% iter:2000 step:10 hurst:0.57 drift:0.07/0</text>
<text x="39.4" y="572" class="tick" text-anchor="middle">0</text><text x="122.4" y="572" class="tick" text-anchor="middle">5</text><text x="205.4" y="572" class="tick" text-anchor="middle">10</text><text x="289.4" y="572" class="tick" text-anchor="middle">15</text><text x="372.4" y="572" class="tick" text-anchor="middle">20</text><text x="455.4" y="572" class="tick" text-anchor="middle">25</text><text x="539.4" y="572" class="tick" text-anchor="middle">30</text><text x="622.4" y="572" class="tick" text-anchor="middle">35</text><text x="705.4" y="572" class="tick" text-anchor="middle">40</text><text x="789.4" y="572" class="tick" text-anchor="middle">45</text><text x="872.4" y="572" class="tick" text-anchor="middle">50</text>
<text transform="translate(35,561.6) rotate(-90)" class="tick" text-anchor="middle">5</text><text transform="translate(35,457.6) rotate(-90)" class="tick" text-anchor="middle">10</text><text transform="translate(35,353.6) rotate(-90)" class="tick" text-anchor="middle">15</text><text transform="translate(35,249.6) rotate(-90)" class="tick" text-anchor="middle">20</text><text transform="translate(35,145.6) rotate(-90)" class="tick" text-anchor="middle">25</text><text transform="translate(35,41.6) rotate(-90)" class="tick" text-anchor="middle">30</text>
<text transform="translate(14,301) rotate(-90)" class="t2" text-anchor="middle">Price ($)</text>
<rect x="19" y="392" width="16" height="33" fill="#e6ffe6"/>
<text transform="translate(31,409) rotate(-90)" text-anchor="middle" style="font-size:9.97px;font-weight:bold;stroke:#000;stroke-width:0.25px">12.29</text>
<text x="883.6" y="398.1" class="tiny" textLength="24.4" lengthAdjust="spacingAndGlyphs">12.80</text>
<text x="883.6" y="383.9" class="tiny" textLength="24.4" lengthAdjust="spacingAndGlyphs">13.48</text>
<text x="883.6" y="370.2" class="tiny" textLength="24.4" lengthAdjust="spacingAndGlyphs">14.14</text>
<text x="883.6" y="354.0" class="tiny" textLength="24.4" lengthAdjust="spacingAndGlyphs">14.92</text>
<text x="883.6" y="335.2" class="tiny" textLength="24.4" lengthAdjust="spacingAndGlyphs">15.82</text>
<text x="883.6" y="310.7" class="tiny" textLength="24.4" lengthAdjust="spacingAndGlyphs">17.00</text>
<text x="883.6" y="280.7" class="tiny" textLength="24.4" lengthAdjust="spacingAndGlyphs">18.44</text>
<text x="883.6" y="243.7" class="tiny" textLength="24.4" lengthAdjust="spacingAndGlyphs">20.22</text>
<text x="883.6" y="188.0" class="tiny" textLength="24.4" lengthAdjust="spacingAndGlyphs">22.90</text>
<text x="883.6" y="420.5" class="tiny" textLength="24.4" lengthAdjust="spacingAndGlyphs">11.72</text>
<text x="883.6" y="430.5" class="tiny" textLength="24.4" lengthAdjust="spacingAndGlyphs">11.24</text>
<text x="883.6" y="442.6" class="tiny" textLength="24.4" lengthAdjust="spacingAndGlyphs">10.66</text>
<text x="883.6" y="455.5" class="tiny" textLength="24.4" lengthAdjust="spacingAndGlyphs">10.04</text>
<text x="883.6" y="467.7" class="tiny" textLength="19.4" lengthAdjust="spacingAndGlyphs">9.45</text>
<text x="883.6" y="479.2" class="tiny" textLength="19.4" lengthAdjust="spacingAndGlyphs">8.90</text>
<text x="883.6" y="492.3" class="tiny" textLength="19.4" lengthAdjust="spacingAndGlyphs">8.27</text>
<text x="883.6" y="508.3" class="tiny" textLength="19.4" lengthAdjust="spacingAndGlyphs">7.50</text>
<text x="883.6" y="529.5" class="tiny" textLength="19.4" lengthAdjust="spacingAndGlyphs">6.48</text>
<text transform="translate(918,355) rotate(-90)" text-anchor="middle" style="font-size:9.97px;font-weight:bold;fill:#a86c00;stroke:#a86c00;stroke-width:0.3px">14.8634</text>
<text transform="translate(918,422.5) rotate(-90)" text-anchor="middle" style="font-size:9.97px;font-weight:bold;fill:#089858;stroke:#089858;stroke-width:0.3px">11.6145</text>
<text x="41.5" y="546" style="font-family:'DejaVu Sans','Liberation Sans',sans-serif;font-size:14.5px;font-weight:bold;fill:#000080">©</text><text x="55.8" y="545" class="cp">www.textbiz.org</text>
<text x="42.3" y="557" class="cp">The Research Foundation of SUNY</text>
<text x="460" y="586" class="t2" text-anchor="middle">Week</text>
<g class="leg">
<text x="282" y="598" class="leg">LTD</text>
<rect x="302" y="592" width="13" height="4" fill="#00f0c0"/><rect x="302" y="596" width="13" height="1" fill="#000"/>
<text x="318" y="598" class="leg">HTD</text>
<rect x="338" y="592" width="13" height="4" fill="#ffc800"/><rect x="338" y="596" width="13" height="1" fill="#000"/>
<text x="354" y="598" class="leg">prob:0%&lt;</text>
<rect x="404" y="588" width="16" height="6" fill="#fff4f4"/><rect x="404" y="594" width="16" height="5" fill="#f4f4ff"/>
<text x="420" y="598" class="leg">&lt;10%&lt;</text>
<rect x="452" y="588" width="16" height="6" fill="#ffdcdc"/><rect x="452" y="594" width="16" height="5" fill="#dcdcff"/>
<text x="468" y="598" class="leg">&lt;20%&lt;</text>
<rect x="500" y="588" width="16" height="6" fill="#ffc0c0"/><rect x="500" y="594" width="16" height="5" fill="#c0c0ff"/>
<text x="516" y="598" class="leg">&lt;30%&lt;</text>
<rect x="548" y="588" width="16" height="6" fill="#ffa0a0"/><rect x="548" y="594" width="16" height="5" fill="#a0a0ff"/>
<text x="564" y="598" class="leg">&lt;40%&lt;</text>
<rect x="596" y="588" width="16" height="6" fill="#ff8080"/><rect x="596" y="594" width="16" height="5" fill="#8080ff"/>
<text x="612" y="598" class="leg">&lt;50%</text>
</g>
</svg>
</body></html>
